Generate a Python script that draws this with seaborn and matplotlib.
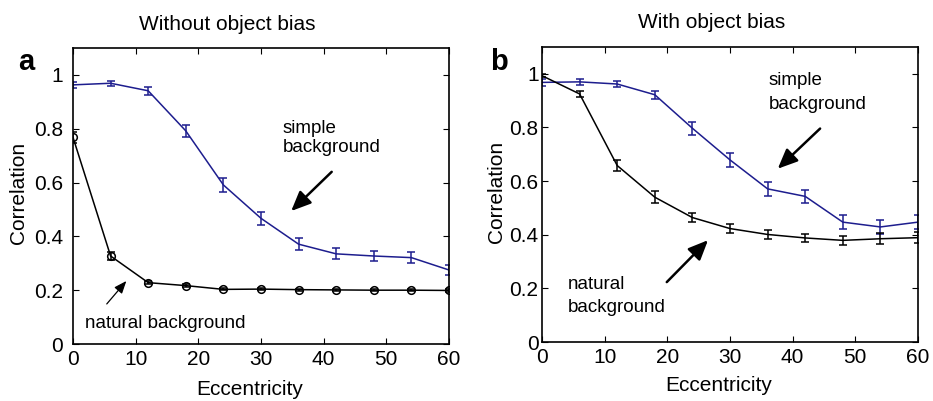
import seaborn as sns
import matplotlib.pyplot as plt
import pandas as pd

# data
ecc = [0, 6, 12, 18, 24, 30, 36, 42, 48, 54, 60]

a_simple = [0.963, 0.969, 0.941, 0.792, 0.591, 0.467, 0.371, 0.335, 0.327, 0.321, 0.275]
a_simple_err = [0.010, 0.009, 0.014, 0.023, 0.026, 0.025, 0.022, 0.020, 0.020, 0.020, 0.018]
a_natural = [0.768, 0.327, 0.228, 0.217, 0.203, 0.204, 0.202, 0.201, 0.200, 0.200, 0.199]
a_natural_err = [0.020, 0.015, 0.006, 0.005, 0.004, 0.004, 0.004, 0.004, 0.004, 0.004, 0.004]

b_simple = [0.968, 0.970, 0.962, 0.922, 0.797, 0.679, 0.571, 0.543, 0.447, 0.429, 0.447]
b_simple_err = [0.012, 0.010, 0.010, 0.015, 0.024, 0.025, 0.025, 0.025, 0.025, 0.025, 0.025]
b_natural = [0.993, 0.925, 0.658, 0.540, 0.464, 0.423, 0.401, 0.388, 0.379, 0.385, 0.389]
b_natural_err = [0.005, 0.012, 0.020, 0.022, 0.018, 0.017, 0.016, 0.016, 0.017, 0.020, 0.020]

BLUE = '#1d1d8e'

sns.set_style('ticks', {'xtick.direction': 'in', 'ytick.direction': 'in',
                        'axes.edgecolor': 'black', 'text.color': 'black',
                        'axes.labelcolor': 'black', 'xtick.color': 'black',
                        'ytick.color': 'black'})
plt.rcParams['font.family'] = ['Liberation Sans', 'DejaVu Sans']
plt.rcParams['font.size'] = 15

fig = plt.figure(figsize=(9.33, 4.01), dpi=100)
ax1 = fig.add_axes([73 / 933, 1 - 344 / 401, 376 / 933, 296 / 401])
ax2 = fig.add_axes([542 / 933, 1 - 342 / 401, 376 / 933, 295 / 401])


def draw(ax, simple, simple_err, natural, natural_err, circles, ypad, ylab_x, xlab_y):
    df = pd.DataFrame({'ecc': ecc, 'simple': simple, 'natural': natural})
    sns.lineplot(data=df, x='ecc', y='simple', ax=ax, color=BLUE, lw=1.1)
    ax.errorbar(ecc, simple, yerr=simple_err, fmt='none', ecolor=BLUE,
                elinewidth=1.1, capsize=3, capthick=1.1)
    if circles:
        sns.lineplot(data=df, x='ecc', y='natural', ax=ax, color='black', lw=1.1,
                     marker='o', markersize=5.5, markerfacecolor='none',
                     markeredgecolor='black', markeredgewidth=1.1)
    else:
        sns.lineplot(data=df, x='ecc', y='natural', ax=ax, color='black', lw=1.1)
    ax.errorbar(ecc, natural, yerr=natural_err, fmt='none', ecolor='black',
                elinewidth=1.1, capsize=3, capthick=1.1)
    ax.set_xlim(0, 60)
    ax.set_ylim(0, 1.1)
    ax.set_xticks([0, 10, 20, 30, 40, 50, 60])
    ax.set_yticks([0, 0.2, 0.4, 0.6, 0.8, 1])
    ax.set_yticklabels(['0', '0.2', '0.4', '0.6', '0.8', '1'])
    ax.tick_params(top=True, right=True, length=4, width=0.8, labelsize=15)
    ax.tick_params(axis='x', pad=4)
    ax.tick_params(axis='y', pad=ypad)
    ax.set_xlabel('Eccentricity', fontsize=15, va='center')
    ax.set_ylabel('Correlation', fontsize=15, va='center')
    ax.xaxis.set_label_coords(0.47, xlab_y)
    ax.yaxis.set_label_coords(ylab_x, 0.51)
    for s in ax.spines.values():
        s.set_linewidth(1.2)


draw(ax1, a_simple, a_simple_err, a_natural, a_natural_err, True, 7, -0.146, -0.155)
draw(ax2, b_simple, b_simple_err, b_natural, b_natural_err, False, 2.5, -0.122, -0.146)

# panel a annotations
ax1.text(33.5, 0.766, 'simple\nbackground', ha='left', va='center', fontsize=13.5, linespacing=1.2)
ax1.annotate('', xy=(34.5, 0.487), xytext=(41.6, 0.647),
             arrowprops=dict(arrowstyle='-|>,head_length=0.8,head_width=0.35', lw=1.8, color='black'))
ax1.text(1.9, 0.078, 'natural background', ha='left', va='center', fontsize=13.5)
ax1.annotate('', xy=(8.8, 0.242), xytext=(5.1, 0.141),
             arrowprops=dict(arrowstyle='-|>,head_length=0.5,head_width=0.2', lw=0.9, color='black'))

# panel b annotations
ax2.text(36.2, 0.931, 'simple\nbackground', ha='left', va='center', fontsize=13.5, linespacing=1.5)
ax2.annotate('', xy=(37.3, 0.639), xytext=(44.7, 0.803),
             arrowprops=dict(arrowstyle='-|>,head_length=0.8,head_width=0.35', lw=1.8, color='black'))
ax2.text(4.1, 0.171, 'natural\nbackground', ha='left', va='center', fontsize=13.5, linespacing=1.5)
ax2.annotate('', xy=(26.8, 0.387), xytext=(19.6, 0.216),
             arrowprops=dict(arrowstyle='-|>,head_length=0.8,head_width=0.35', lw=1.8, color='black'))

fig.text(227 / 933, 1 - 24 / 401, 'Without object bias', ha='center', va='center', fontsize=15)
fig.text(712 / 933, 1 - 23 / 401, 'With object bias', ha='center', va='center', fontsize=15)
fig.text(26 / 933, 1 - 62 / 401, 'a', ha='center', va='center', fontsize=21, fontweight='bold')
fig.text(499 / 933, 1 - 62 / 401, 'b', ha='center', va='center', fontsize=21, fontweight='bold')

fig.savefig('out.png', dpi=100)
